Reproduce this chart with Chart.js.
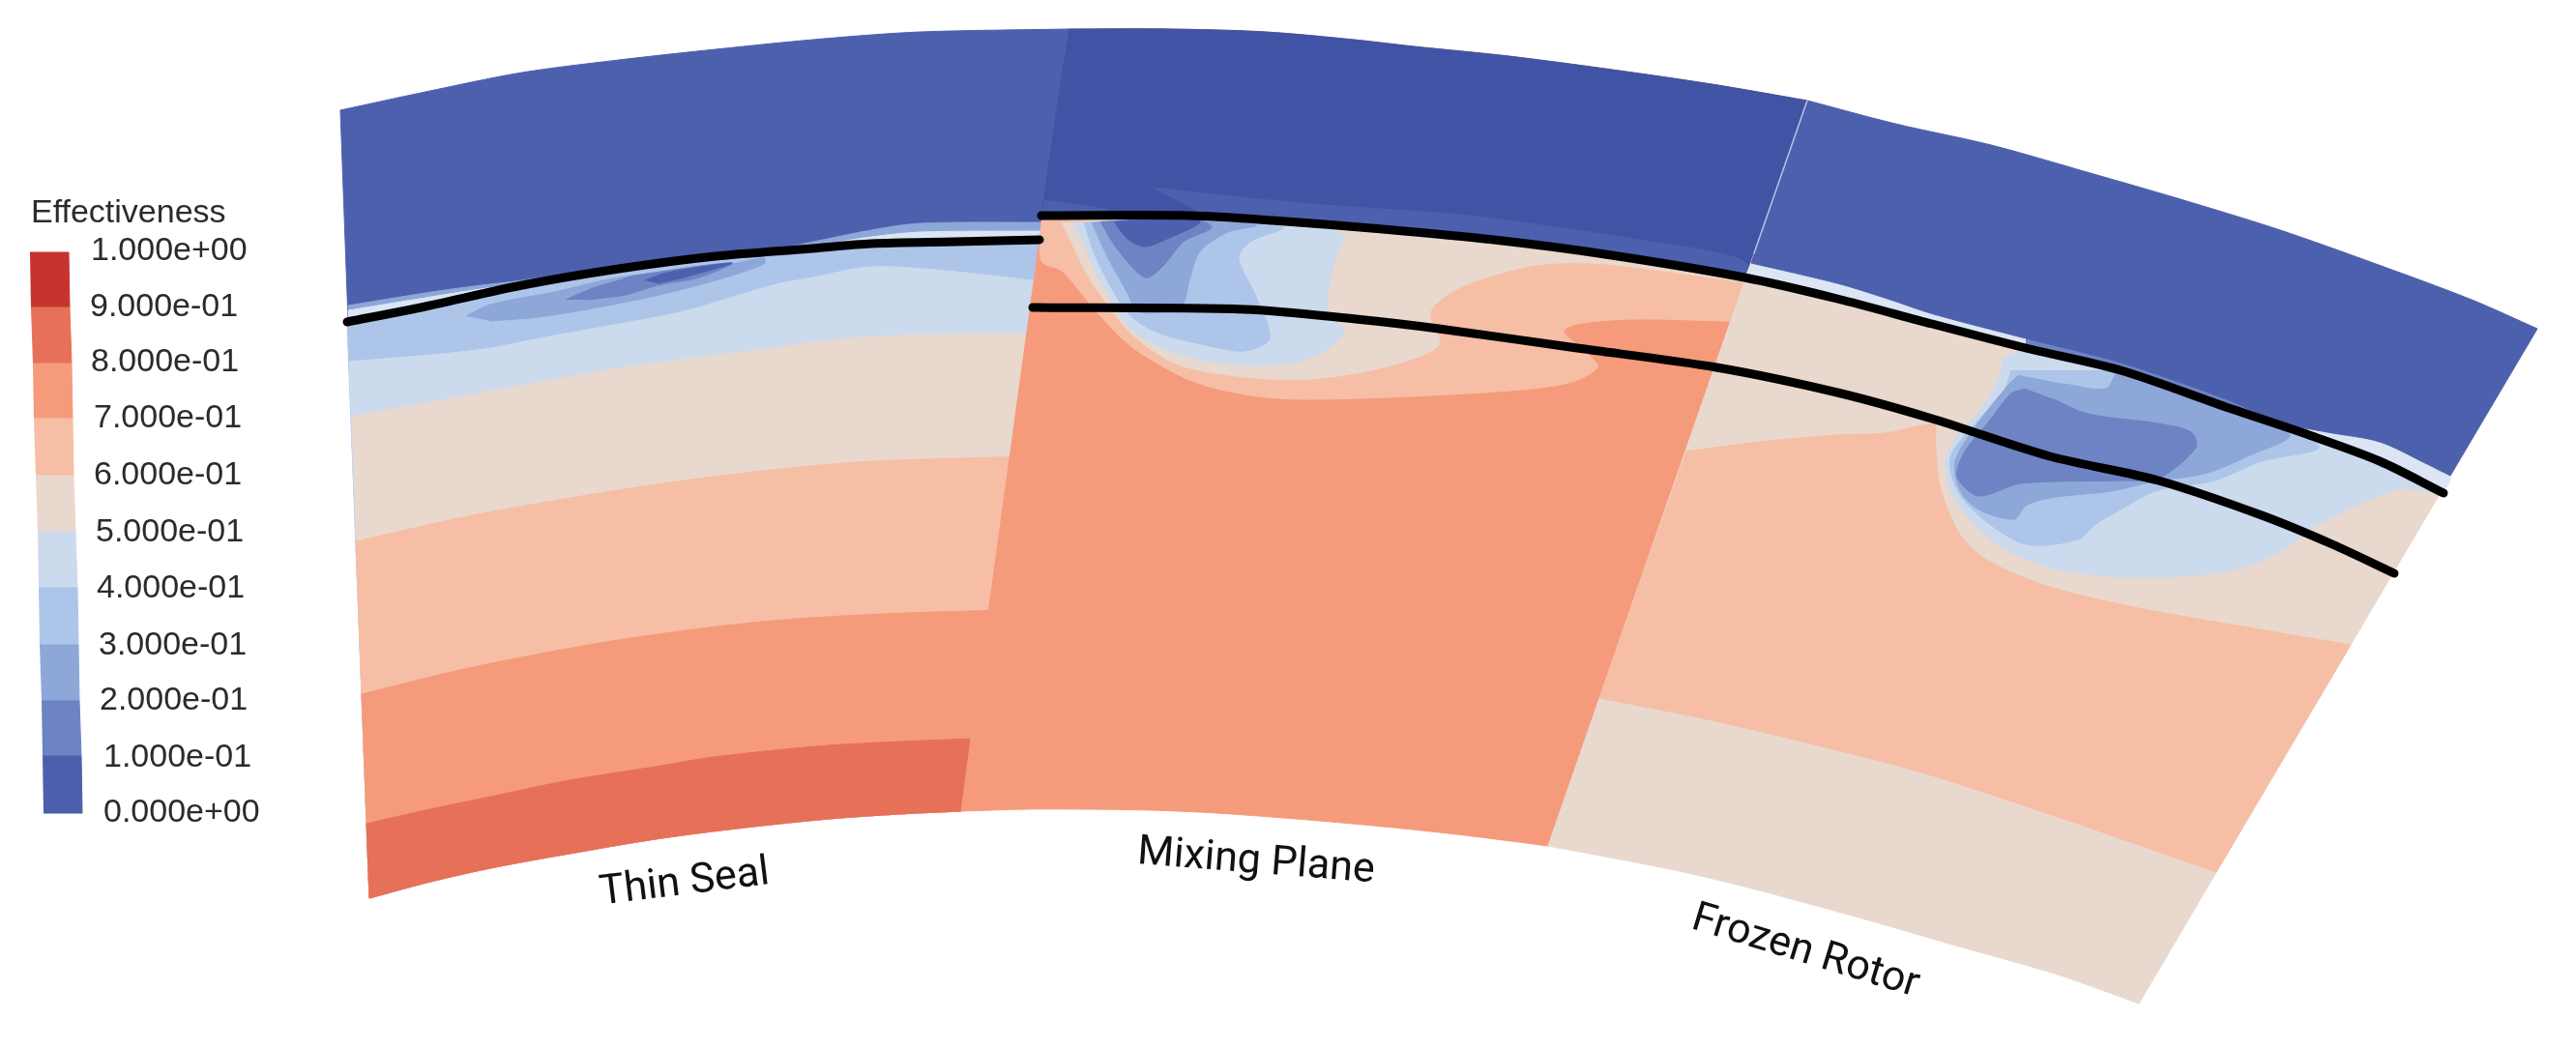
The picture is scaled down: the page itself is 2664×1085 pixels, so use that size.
<!DOCTYPE html>
<html>
<head>
<meta charset="utf-8">
<title>Effectiveness contours</title>
<script src="https://cdn.jsdelivr.net/npm/chart.js@4"></script>
<style>
  html, body { margin: 0; padding: 0; background: #fff; overflow: hidden; }
  canvas { display: block; filter: blur(0.7px); }
</style>
</head>
<body>
<canvas id="chart" width="2664" height="1085"></canvas>
<script>
// colour bar
const barTicks = ['1.000e+00', '9.000e-01', '8.000e-01', '7.000e-01', '6.000e-01', '5.000e-01', '4.000e-01', '3.000e-01', '2.000e-01', '1.000e-01', '0.000e+00'];
const barTickX = [94, 93, 94, 97, 97, 99, 100, 102, 103, 107, 107];
const barTickY = [260, 318, 375, 433, 492, 551, 609, 668, 725, 784, 841];
const barLeft = [31, 32, 34, 35, 37, 39, 40, 41, 43, 44, 45];
const barRight = [71, 72, 74, 75, 76, 78, 80, 81, 82, 84, 85];
const barEdgeY = [261, 318, 376, 433, 492, 550, 608, 667, 725, 782, 841];

// contour level colours, 0-0.1 up to 0.9-1
const levels = ['#4c60ad', '#6d83c3', '#8da7d9', '#adc5e8', '#ccdaee', '#e9d8cd', '#f6bea5', '#f59b7b', '#e77058', '#c9332f'];
const navyDark = '#4153a4';
const halo = '#dbe5f3';

// case names
const caseNames = ['Thin Seal', 'Mixing Plane', 'Frozen Rotor'];
const caseX = [708, 1299, 1867];
const caseY = [914, 892, 985];
const caseAngle = [-7, 4.5, 17];

// Thin Seal panel
const thinTop = [[352, 114], [440, 95], [540, 75], [640, 62], [740, 51], [852, 40], [952, 33], [1105, 30]];
const thinSeam = [[1105, 30], [994, 839]];
const thinBottom = [[382, 929], [445, 912], [512, 897], [600, 881], [684, 867], [770, 856], [857, 847], [930, 842], [994, 839]];
const thinLeft = [[352, 114], [382, 929]];
const thinNavyEdge = [[360, 316], [440, 303], [490, 296], [540, 290], [640, 275], [740, 262], [800, 258], [851, 248], [901, 238], [952, 231], [1085, 230]];
const thinHaloEdge = [[360, 321], [440, 308], [490, 300], [540, 293], [640, 278], [740, 265], [800, 261], [851, 253], [901, 245], [952, 240], [1085, 239]];
const thinLine = [[359, 333], [440, 317], [540, 295], [640, 278], [740, 265], [840, 257], [901, 252], [988, 250], [1075, 248]];
const thinEdge4 = [[361, 374], [493, 362], [573, 347], [640, 335], [707, 322], [799, 295], [840, 287], [901, 276], [978, 280], [1085, 292]];
const thinEdge5 = [[364, 431], [493, 407], [646, 380], [799, 360], [901, 348], [1080, 345]];
const thinEdge6 = [[368, 560], [489, 533], [639, 507], [763, 490], [887, 478], [1060, 472]];
const thinEdge7 = [[374, 718], [489, 690], [639, 662], [788, 643], [912, 635], [1040, 631]];
const thinEdge8 = [[379, 852], [440, 838], [512, 823], [589, 807], [684, 792], [738, 783], [857, 771], [1003, 764]];
const thinBlob2 = [[482, 327], [507, 315], [573, 302], [640, 287], [757, 273], [790, 267], [790, 273], [740, 290], [673, 307], [607, 320], [557, 328], [507, 332]];
const thinBlob1 = [[585, 310], [613, 298], [640, 290], [657, 285], [757, 272], [723, 287], [680, 295], [647, 305], [607, 310]];
const thinBlob0 = [[667, 290], [690, 282], [757, 272], [707, 287], [680, 293]];

// Mixing Plane panel
const midTop = [[1105, 30], [1210, 30], [1309, 33], [1400, 41], [1462, 48], [1560, 58], [1667, 72], [1770, 87], [1869, 104]];
const midRight = [[1869, 104], [1601, 875]];
const midBottom = [[994, 839], [1060, 837], [1121, 837], [1190, 838], [1258, 841], [1340, 847], [1431, 855], [1515, 864], [1601, 875]];
const midLeft = [[1105, 30], [994, 839]];
const midLine1 = [[1077, 223], [1230, 223], [1316, 228], [1430, 237], [1545, 248], [1660, 263], [1804, 287], [1900, 309], [1998, 335], [2095, 360], [2193, 383], [2305, 422], [2388, 450], [2461, 477], [2527, 510]];
const midLine2 = [[1068, 318], [1287, 320], [1402, 330], [1488, 340], [1631, 360], [1775, 380], [1900, 406], [1998, 433], [2120, 472], [2232, 497], [2339, 533], [2412, 563], [2476, 593]];
const midGlow = [[1192, 194], [1344, 210], [1517, 223], [1689, 247], [1798, 267], [1812, 284], [1660, 263], [1545, 248], [1430, 237], [1316, 228], [1247, 223]];
const midWedge = [[1080, 207], [1146, 218], [1077, 225]];
const midContour6 = [[1077, 228], [1077, 270], [1098, 280], [1118, 303], [1138, 327], [1172, 360], [1230, 393], [1287, 408], [1344, 413], [1459, 410], [1574, 403], [1626, 395], [1652, 380], [1643, 367], [1617, 343], [1631, 335], [1689, 330], [1786, 332], [1815, 332], [1815, 290], [1660, 263], [1545, 248], [1430, 237], [1230, 223]];
const midContour5 = [[1098, 230], [1109, 253], [1126, 287], [1144, 313], [1172, 347], [1218, 377], [1287, 390], [1356, 392], [1431, 380], [1488, 357], [1479, 323], [1505, 300], [1551, 283], [1597, 273], [1660, 273], [1810, 292], [1660, 263], [1545, 248], [1430, 237], [1230, 223]];
const midContour4 = [[1109, 230], [1118, 247], [1138, 290], [1166, 337], [1201, 360], [1258, 375], [1310, 378], [1356, 370], [1390, 343], [1373, 320], [1382, 263], [1390, 243], [1321, 230], [1230, 223]];
const midContour3 = [[1121, 230], [1135, 270], [1166, 323], [1195, 343], [1247, 357], [1287, 363], [1313, 350], [1299, 307], [1281, 267], [1293, 250], [1327, 235], [1230, 223]];
const midContour2 = [[1129, 230], [1144, 263], [1166, 303], [1178, 323], [1221, 317], [1230, 290], [1241, 260], [1270, 240], [1299, 233], [1230, 223]];
const midContour1 = [[1138, 229], [1155, 257], [1184, 287], [1201, 277], [1224, 250], [1253, 235], [1230, 223]];
const midContour0 = [[1152, 229], [1166, 247], [1184, 255], [1207, 247], [1241, 230], [1230, 223]];

// Frozen Rotor panel
const rotorTop = [[1869, 104], [1960, 128], [2059, 150], [2158, 178], [2258, 207], [2358, 238], [2457, 273], [2556, 310], [2624, 340]];
const rotorRight = [[2624, 340], [2212, 1038]];
const rotorBottom = [[1601, 875], [1665, 887], [1732, 900], [1800, 916], [1864, 933], [1940, 954], [2019, 977], [2080, 994], [2134, 1010], [2212, 1038]];
const rotorLeft = [[1601, 875], [1869, 104]];
const rotorSalmonTop = [[1744, 467], [1820, 457], [1900, 450], [1949, 448], [1983, 441], [2002, 438]];
const rotorSalmonSide = [[2002, 438], [2002, 467], [2007, 507], [2027, 553], [2056, 580], [2120, 607], [2202, 627], [2290, 643], [2431, 667]];
const rotorSalmonLow = [[1654, 722], [1761, 743], [1876, 770], [1991, 800], [2134, 847], [2292, 902]];
const rotorContour4 = [[2071, 370], [2068, 390], [2046, 427], [2022, 453], [2012, 480], [2022, 517], [2061, 560], [2120, 587], [2202, 597], [2290, 593], [2339, 580], [2373, 560], [2393, 545], [2437, 523], [2485, 505], [2523, 510], [2461, 477], [2388, 450], [2305, 422], [2193, 383], [2095, 360]];
const rotorContour3 = [[2080, 383], [2071, 407], [2041, 440], [2017, 473], [2024, 507], [2051, 537], [2095, 563], [2149, 558], [2166, 543], [2193, 527], [2232, 507], [2290, 497], [2339, 477], [2398, 463], [2359, 440], [2305, 422], [2193, 383]];
const rotorContour2 = [[2088, 388], [2078, 397], [2046, 437], [2022, 477], [2027, 507], [2046, 527], [2083, 537], [2095, 523], [2120, 515], [2183, 508], [2232, 497], [2280, 490], [2329, 470], [2368, 450], [2305, 422], [2193, 383], [2178, 402], [2134, 397]];
const rotorContour1 = [[2095, 402], [2080, 407], [2056, 437], [2032, 467], [2024, 493], [2046, 513], [2090, 500], [2193, 497], [2232, 495], [2271, 463], [2266, 447], [2232, 438], [2159, 428], [2124, 413]];
const rotorNavyEdge = [[1811, 272], [1900, 293], [1949, 308], [2000, 325], [2095, 350], [2193, 375], [2300, 412], [2359, 437], [2407, 447], [2461, 457], [2510, 480], [2534, 492]];
const rotorHaloLeft = [[1804, 287], [1900, 309], [1998, 335], [2095, 360], [2095, 350], [2000, 325], [1949, 308], [1900, 293], [1811, 272]];
const rotorHaloRight = [[2370, 443], [2407, 447], [2461, 457], [2510, 480], [2534, 492], [2523, 510], [2461, 477], [2388, 450]];
const rotorStrip = [[2095, 350], [2193, 375], [2300, 412], [2359, 437], [2388, 450], [2305, 422], [2193, 383], [2095, 360]];
const rotorSeam = [[1869, 104], [1814, 262]];

const fonts = { label: '34px "Liberation Sans"', caseName: '43px Roboto' };

const rev = pts => [...pts].reverse();
const join = (...edges) => edges.flat();

let datasets = [];
function area(points, color, tension = 0.3) {
  datasets.push({
    data: points, showLine: true, fill: 'shape', tension: tension,
    backgroundColor: color, borderColor: color, borderWidth: 1, pointRadius: 0,
  });
}
function stroke(points, color, width, tension = 0.3) {
  datasets.push({
    data: points, showLine: true, fill: false, tension: tension,
    borderColor: color, borderWidth: width, borderCapStyle: 'round', pointRadius: 0,
  });
}
function thinBand(edge, color) {
  area(join(edge, [edge[edge.length - 1], thinBottom[8]], rev(thinBottom), [thinBottom[0], edge[0]]), color);
}

// colour bar cells
for (let i = 0; i < 10; i++) {
  area([
    [barLeft[i], barEdgeY[i]], [barRight[i], barEdgeY[i]],
    [barRight[i + 1], barEdgeY[i + 1]], [barLeft[i + 1], barEdgeY[i + 1]],
  ], levels[9 - i], 0);
}

// Thin Seal, painted from the top band downwards
area(join(thinTop, thinSeam, rev(thinBottom), rev(thinLeft)), levels[0]);
thinBand(thinNavyEdge, levels[2]);
thinBand(thinHaloEdge, halo);
thinBand(thinLine, levels[3]);
area(thinBlob2, levels[2]);
area(thinBlob1, levels[1]);
area(thinBlob0, levels[0]);
thinBand(thinEdge4, levels[4]);
thinBand(thinEdge5, levels[5]);
thinBand(thinEdge6, levels[6]);
thinBand(thinEdge7, levels[7]);
thinBand(thinEdge8, levels[8]);

// Mixing Plane
area(join(midTop, midRight, rev(midBottom), rev(midLeft)), levels[7]);
area(midContour6, levels[6]);
area(midContour5, levels[5]);
area(midContour4, levels[4]);
area(midContour3, levels[3]);
area(midContour2, levels[2]);
area(midContour1, levels[1]);
area(midContour0, levels[0]);
area(join(midTop, [[1869, 104], [1805, 287]], rev(midLine1.slice(0, 7)), [[1077, 223], [1105, 30]]), navyDark);
area(midGlow, levels[0]);
area(midWedge, levels[0]);

// Frozen Rotor
area(join(rotorTop, rotorRight, rev(rotorBottom), rotorLeft), levels[5]);
area(join(rotorSalmonTop, rotorSalmonSide, [[2431, 667], [2292, 902]], rev(rotorSalmonLow), [[1654, 722], [1744, 467]]), levels[6]);
area(rotorContour4, levels[4]);
area(rotorContour3, levels[3]);
area(rotorContour2, levels[2]);
area(rotorContour1, levels[1]);
area(rotorHaloLeft, halo);
area(rotorHaloRight, halo);
area(rotorStrip, levels[1]);
area(join(rotorTop, [[2624, 340], [2534, 492]], rev(rotorNavyEdge), [[1811, 272], [1869, 104]]), levels[0]);
stroke(rotorSeam, '#b4c0e0', 1.5, 0);

// black lines on top
stroke(thinLine, '#000', 9);
stroke(midLine1, '#000', 9);
stroke(midLine2, '#000', 9);

// first dataset painted first
datasets.forEach((d, i) => { d.order = datasets.length - i; });

const textPlugin = {
  id: 'chartText',
  afterDatasetsDraw(chart) {
    const ctx = chart.ctx;
    const xs = chart.scales.x;
    const ys = chart.scales.y;
    ctx.save();
    ctx.textBaseline = 'middle';
    ctx.textAlign = 'left';
    ctx.fillStyle = '#2b2b2b';
    ctx.font = fonts.label;
    ctx.fillText('Effectiveness', xs.getPixelForValue(32), ys.getPixelForValue(221));
    barTicks.forEach((t, i) => {
      ctx.fillText(t, xs.getPixelForValue(barTickX[i]), ys.getPixelForValue(barTickY[i]));
    });
    ctx.textAlign = 'center';
    ctx.fillStyle = '#111';
    ctx.font = fonts.caseName;
    caseNames.forEach((t, i) => {
      ctx.save();
      ctx.translate(xs.getPixelForValue(caseX[i]), ys.getPixelForValue(caseY[i]));
      ctx.rotate(caseAngle[i] * Math.PI / 180);
      ctx.fillText(t, 0, 0);
      ctx.restore();
    });
    ctx.restore();
  },
};

new Chart(document.getElementById('chart').getContext('2d'), {
  type: 'scatter',
  data: { datasets: datasets },
  options: {
    responsive: false,
    animation: false,
    events: [],
    layout: { padding: 0 },
    plugins: { legend: { display: false }, tooltip: { enabled: false } },
    scales: {
      x: { type: 'linear', min: 0, max: 2664, display: false },
      y: { type: 'linear', min: 0, max: 1085, reverse: true, display: false },
    },
  },
  plugins: [textPlugin],
});
</script>
</body>
</html>
